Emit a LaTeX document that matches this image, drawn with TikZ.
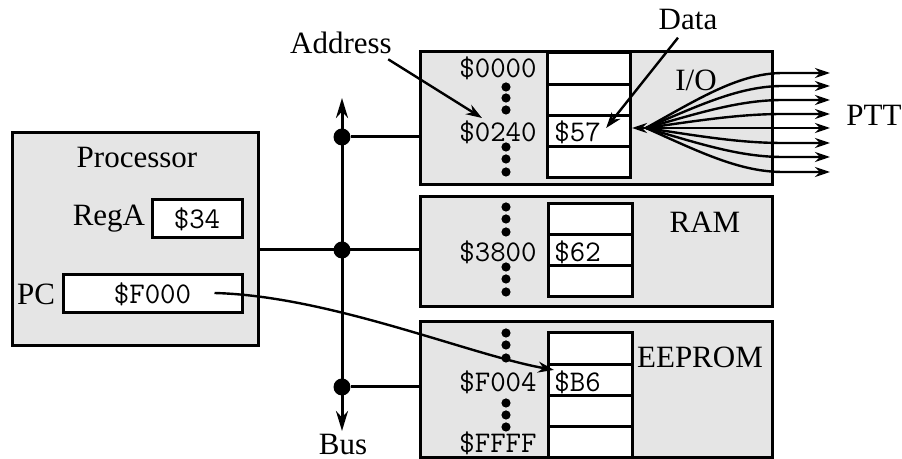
\documentclass[tikz,border=0pt]{standalone}
\usepackage{fontspec}
\setmainfont{Liberation Serif}
\usetikzlibrary{arrows.meta,positioning,calc}

\tikzset{
  unit/.style={draw, line width=1.5pt, fill=gray!20, inner sep=0pt},
  reg/.style={draw, line width=1.5pt, fill=white, inner sep=0pt, minimum height=19pt,
    font=\ttfamily\fontsize{15}{17}\selectfont},
  cell/.style={draw, line width=1.5pt, fill=white},
  lbl/.style={inner sep=0pt, font=\fontsize{15.5}{18}\selectfont},
  addr/.style={inner sep=0pt, anchor=east, font=\ttfamily\fontsize{15}{17}\selectfont},
  val/.style={inner sep=0pt, anchor=west, font=\ttfamily\fontsize{15}{17}\selectfont},
  busdot/.style={circle, fill=black, inner sep=0pt, minimum size=8.5pt},
  wire/.style={line width=1.5pt},
  ptr/.style={line width=1.2pt, -{Stealth[length=8pt,width=5.5pt]}},
  fanline/.style={line width=1.2pt, -{Stealth[length=7.5pt,width=5pt]}},
}

\begin{document}
\begin{tikzpicture}[x=0.5pt, y=-0.5pt]
\useasboundingbox (0,0) rectangle (902,459);

% Processor
\node[unit, minimum width=123pt, minimum height=106.5pt] (cpu) at (135,239.5) {};
\node[lbl] (cpulbl) at (137,158) {Processor};
\node[reg, minimum width=45pt] (rega) at (197,219) {\$34};
\node[lbl, left=2.5pt of rega] (regalbl) {RegA};
\node[reg, minimum width=89.5pt] (pc) at (152.5,294) {\$F000};
\node[lbl, left=3pt of pc] (pclbl) {PC};

% Memory units
\node[unit, minimum width=176pt, minimum height=66.5pt] (io) at (596,118.5) {};
\node[unit, minimum width=176pt, minimum height=55pt] (ram) at (596,252) {};
\node[unit, minimum width=176pt, minimum height=68pt] (rom) at (596,390) {};

% Cells
\foreach \i in {0,...,3} \draw[cell] (547,{53+31.25*\i}) rectangle ++(83,31.25);
\foreach \i in {0,1,2} \draw[cell] (548,{204+31*\i}) rectangle ++(84,31);
\foreach \i in {0,...,3} \draw[cell] (548,{333+31.25*\i}) rectangle ++(84,31.25);

% I/O contents
\node[addr] (a0000) at (537,68) {\$0000};
\node[addr] (a0240) at (537,132) {\$0240};
\node[val] (v57) at (554,132) {\$57};
\foreach \y in {87,98,110,147,159,172} \fill (506,\y) circle[radius=2.3pt];
\node[lbl] (iolbl) at (696,80) {I/O};

% RAM contents
\node[addr] (a3800) at (537,252) {\$3800};
\node[val] (v62) at (554,252) {\$62};
\foreach \y in {207,219,232,267,279,292} \fill (506,\y) circle[radius=2.3pt];
\node[lbl] (ramlbl) at (705,222) {RAM};

% EEPROM contents
\node[addr] (aF004) at (537,382) {\$F004};
\node[val] (vB6) at (554,382) {\$B6};
\node[addr] (aFFFF) at (537,443) {\$FFFF};
\foreach \y in {333,345,358,403,415,427} \fill (506,\y) circle[radius=2.3pt];
\node[lbl] (romlbl) at (700,357) {EEPROM};

% Bus
\coordinate (bustop) at (342,98);
\coordinate (busbot) at (342,431);
\draw[wire, {Stealth[length=10pt,width=6pt]}-{Stealth[length=10pt,width=6pt]}] (bustop) -- (busbot);
\node[lbl] (buslbl) at (343,445) {Bus};
\node[busdot] (busio) at (342,137) {};
\node[busdot] (busram) at (342,250) {};
\node[busdot] (busrom) at (342,387) {};
\draw[wire] (busio) -- (busio -| io.west);
\draw[wire] (cpu.east |- busram) -- (busram -| ram.west);
\draw[wire] (busrom) -- (busrom -| rom.west);

% Address and data pointers
\node[lbl] (addrlbl) at (341,43) {Address};
\coordinate (addrtip) at (482,118);
\draw[ptr] ($(addrlbl.south east)+(-4,5)$) -- (addrtip);
\node[lbl] (datalbl) at (688,20) {Data};
\draw[ptr] ($(datalbl.south)+(-10,7)$) -- ($(v57.east)+(5,-4)$);

% PC points into EEPROM
\draw[ptr] ($(pc.east)+(-29,-1)$) .. controls (330,296) and (470,355) .. (vB6.north west);

% Port lines
\coordinate (ioport) at (646,128);
\coordinate (iotip) at (632,128);
\draw[fanline] (ioport) -- (iotip);
\foreach \yy in {73,86,100,114,128,143,157,172}
  \draw[fanline] (ioport) .. controls (700,{128+0.55*(\yy-128)}) and (740,\yy) .. (783,\yy) -- (830,\yy);
\node[lbl] (pttlbl) at (874,115) {PTT};

\end{tikzpicture}
\end{document}
